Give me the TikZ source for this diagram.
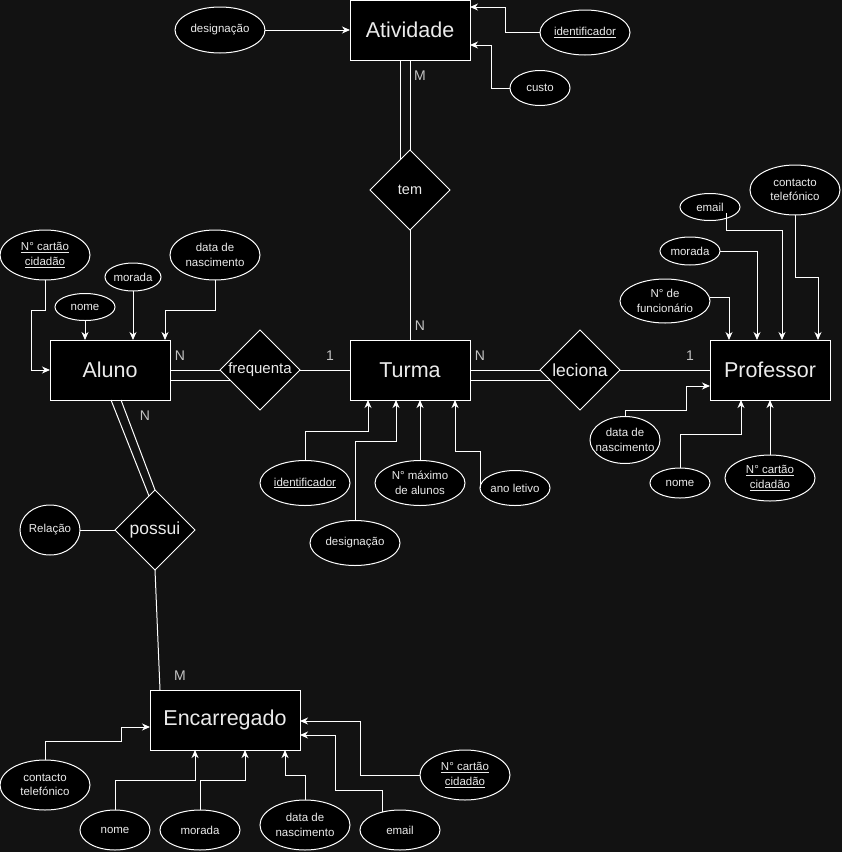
\documentclass[tikz,border=0pt]{standalone}
\usepackage{fontspec}
\setmainfont{Liberation Sans}
\usetikzlibrary{shapes.geometric,arrows.meta,calc}
\definecolor{bg}{RGB}{18,18,18}
\definecolor{ink}{RGB}{235,235,235}
\definecolor{cardc}{RGB}{195,195,195}
% zero-width line, so that the text never enlarges its shape
\newcommand{\zw}[1]{\makebox[0pt]{#1}}

\begin{document}
\begin{tikzpicture}[x=1pt,y=-1pt,
  entity/.style={rectangle,draw=white,fill=black,line width=1pt,minimum width=120pt,minimum height=60pt,
    inner sep=0pt,outer sep=0pt,text=ink,font=\fontsize{21.5}{24}\selectfont},
  rel/.style={diamond,draw=white,fill=black,line width=1pt,minimum width=80pt,minimum height=80pt,
    aspect=1,inner sep=0pt,outer sep=0pt,text=ink},
  attr/.style={ellipse,draw=white,fill=black,line width=1pt,inner sep=0pt,outer sep=0pt,
    text=ink,align=center,font=\fontsize{11.5}{14.5}\selectfont},
  ln/.style={draw=white,line width=1pt},
  arr/.style={ln,-{Stealth[length=8pt,width=7pt,inset=2.5pt]}},
  card/.style={text=cardc,font=\fontsize{14}{16}\selectfont,inner sep=0pt}
]
\useasboundingbox (0,0) rectangle (842,852);
\fill[bg] (0,0) rectangle (842,852);

% ---------- entities ----------
\node[entity] (atv) at (410,30) {Atividade};
\node[entity] (alu) at (110,370) {Aluno};
\node[entity] (tur) at (410,370) {Turma};
\node[entity] (pro) at (770,370) {Professor};
\node[entity,minimum width=150pt] (enc) at (225,720) {Encarregado};

% ---------- relationships ----------
\node[rel,font=\fontsize{14.5}{16}\selectfont] (tem) at (410,190) {tem};
\node[rel,font=\fontsize{15}{17}\selectfont] (freq) at (260,370) {frequenta};
\node[rel,font=\fontsize{17.5}{19}\selectfont] (lec) at (580,370) {leciona};
\node[rel,font=\fontsize{17.5}{19}\selectfont] (pos) at (155,530) {possui};

% ---------- attributes of Atividade ----------
\node[attr,minimum width=90pt,minimum height=46pt] (desA) at (220,30) {\zw{designação}};
\node[attr,minimum width=90pt,minimum height=45pt] (idA) at (585,32.5) {\zw{\underline{identificador}}};
\node[attr,minimum width=60pt,minimum height=35pt] (custo) at (540,88) {\zw{custo}};

% ---------- attributes of Aluno ----------
\node[attr,minimum width=90pt,minimum height=50pt] (ccAl) at (45,255) {\zw{\underline{N° cartão}}\\\zw{\underline{cidadão}}};
\node[attr,minimum width=60pt,minimum height=27pt] (nomeAl) at (85,307) {\zw{nome}};
\node[attr,minimum width=56pt,minimum height=28pt] (morAl) at (133,277) {\zw{morada}};
\node[attr,minimum width=90pt,minimum height=50pt] (dnAl) at (215,255) {\zw{data de}\\\zw{nascimento}};

% ---------- attributes of Turma ----------
\node[attr,minimum width=90pt,minimum height=45pt] (idT) at (305,483) {\zw{\underline{identificador}}};
\node[attr,minimum width=90pt,minimum height=45pt] (desT) at (355,543) {\zw{designação}};
\node[attr,minimum width=90pt,minimum height=45pt] (maxT) at (420,483) {\zw{N° máximo}\\\zw{de alunos}};
\node[attr,minimum width=70pt,minimum height=35pt] (anoT) at (515,488) {\zw{ano letivo}};

% ---------- attributes of Professor ----------
\node[attr,minimum width=60pt,minimum height=27pt] (emP) at (710,207) {\zw{email}};
\node[attr,minimum width=90pt,minimum height=50pt] (ctP) at (795,190) {\zw{contacto}\\\zw{telefónico}};
\node[attr,minimum width=60pt,minimum height=28pt] (morP) at (690,251) {\zw{morada}};
\node[attr,minimum width=90pt,minimum height=44pt] (nfP) at (665,301) {\zw{N° de}\\\zw{funcionário}};
\node[attr,minimum width=70pt,minimum height=47pt] (dnP) at (625,440) {\zw{data de}\\\zw{nascimento}};
\node[attr,minimum width=60pt,minimum height=30pt] (nomeP) at (680,483) {\zw{nome}};
\node[attr,minimum width=90pt,minimum height=46pt] (ccP) at (770,478) {\zw{\underline{N° cartão}}\\\zw{\underline{cidadão}}};

% ---------- attribute of possui ----------
\node[attr,minimum width=60pt,minimum height=50pt] (relc) at (50,530) {\zw{Relação}};

% ---------- attributes of Encarregado ----------
\node[attr,minimum width=90pt,minimum height=50pt] (ctE) at (45,785) {\zw{contacto}\\\zw{telefónico}};
\node[attr,minimum width=70pt,minimum height=40pt] (nomeE) at (115,830) {\zw{nome}};
\node[attr,minimum width=80pt,minimum height=40pt] (morE) at (200,830) {\zw{morada}};
\node[attr,minimum width=90pt,minimum height=50pt] (dnE) at (305,825) {\zw{data de}\\\zw{nascimento}};
\node[attr,minimum width=80pt,minimum height=40pt] (emE) at (400,830) {\zw{email}};
\node[attr,minimum width=90pt,minimum height=50pt] (ccE) at (465,775) {\zw{\underline{N° cartão}}\\\zw{\underline{cidadão}}};

% ---------- relationship lines ----------
\draw[ln] (atv.south) -- (tem.north);
\draw[ln] (atv.south -| 400,0) -- ($(tem.north)+(-10,10)$);
\draw[ln] (tem.south) -- (tur.north);

\draw[ln] (alu.east) -- (freq.west);
\draw[ln] ($(alu.east)+(0,10)$) -- ($(freq.west)+(10,10)$);
\draw[ln] (freq.east) -- (tur.west);

\draw[ln] (tur.east) -- (lec.west);
\draw[ln] ($(tur.east)+(0,10)$) -- ($(lec.west)+(10,10)$);
\draw[ln] (lec.east) -- (pro.west);

\draw[ln] (alu.south -| 121,0) -- (pos.north);
\draw[ln] (alu.south -| 111,0) -- ($(pos.north)+(-6,6)$);
\draw[ln] (pos.south) -- (enc.north -| 160,0);
\draw[ln] (relc.east) -- (pos.west);

% ---------- cardinalities ----------
\node[card] (cM1) at (420,75.5) {M};
\node[card] (cN1) at (420,325.5) {N};
\node[card] (cN2) at (180,356) {N};
\node[card] (c12) at (330,356) {1};
\node[card] (cN3) at (480,356) {N};
\node[card] (c13) at (690,356) {1};
\node[card] (cN4) at (145,415.5) {N};
\node[card] (cM2) at (180,675.5) {M};

% ---------- attribute connectors: Atividade ----------
\draw[arr] (desA) -- (atv);
\draw[arr] (idA.west) -| (505,7) -- (atv.east |- 0,7);
\draw[arr] (custo.west) -| (491,45) -- (atv.east |- 0,45);

% ---------- attribute connectors: Aluno ----------
\draw[arr] (ccAl.south) -- (45,310) -- (31,310) |- (alu.west);
\draw[arr] (nomeAl.south) -- (nomeAl.south |- alu.north);
\draw[arr] (morAl.south) -- (morAl.south |- alu.north);
\draw[arr] (dnAl.south) -- (215,310) -| (alu.north -| 165,0);

% ---------- attribute connectors: Turma ----------
\draw[arr] (idT.north) -- (305,431) -| (tur.south -| 368,0);
\draw[arr] (desT.north) -- (355,441) -| (tur.south -| 396,0);
\draw[arr] (maxT.north) -- (maxT.north |- tur.south);
\draw[arr] (anoT.west) -- (480,451) -| (tur.south -| 455,0);

% ---------- attribute connectors: Professor ----------
\draw[arr] ($(emP.center)+(16,6)$) -- (726,230) -| (pro.north -| 782,0);
\draw[arr] (ctP.south) -- (795,277) -| (pro.north -| 818,0);
\draw[arr] (morP.east) -| (pro.north -| 757,0);
\draw[arr] ($(nfP.east)+(0,-4)$) -| (pro.north -| 729,0);
\draw[arr] (dnP.north) -- (625,410) -- (686,410) -- (686,386) -- (pro.west |- 0,386);
\draw[arr] (nomeP.north) -- (680,434) -| (pro.south -| 741,0);
\draw[arr] (ccP.north) -- (ccP.north |- pro.south);

% ---------- attribute connectors: Encarregado ----------
\draw[arr] (ctE.north) -- (45,741) -| (121,727) -- (enc.west |- 0,727);
\draw[arr] (nomeE.north) -- (115,780) -| (enc.south -| 195,0);
\draw[arr] (morE.north) -- (200,780) -| (enc.south -| 245,0);
\draw[arr] (dnE.north) -- (305,775) -| (enc.south -| 285,0);
\draw[arr] ($(emE.center)+(-18,-18)$) -- (382,790) -- (335,790) -- (335,735) -- (enc.east |- 0,735);
\draw[arr] (ccE.west) -- (360,775) -- (360,721) -- (enc.east |- 0,721);

\end{tikzpicture}
\end{document}
